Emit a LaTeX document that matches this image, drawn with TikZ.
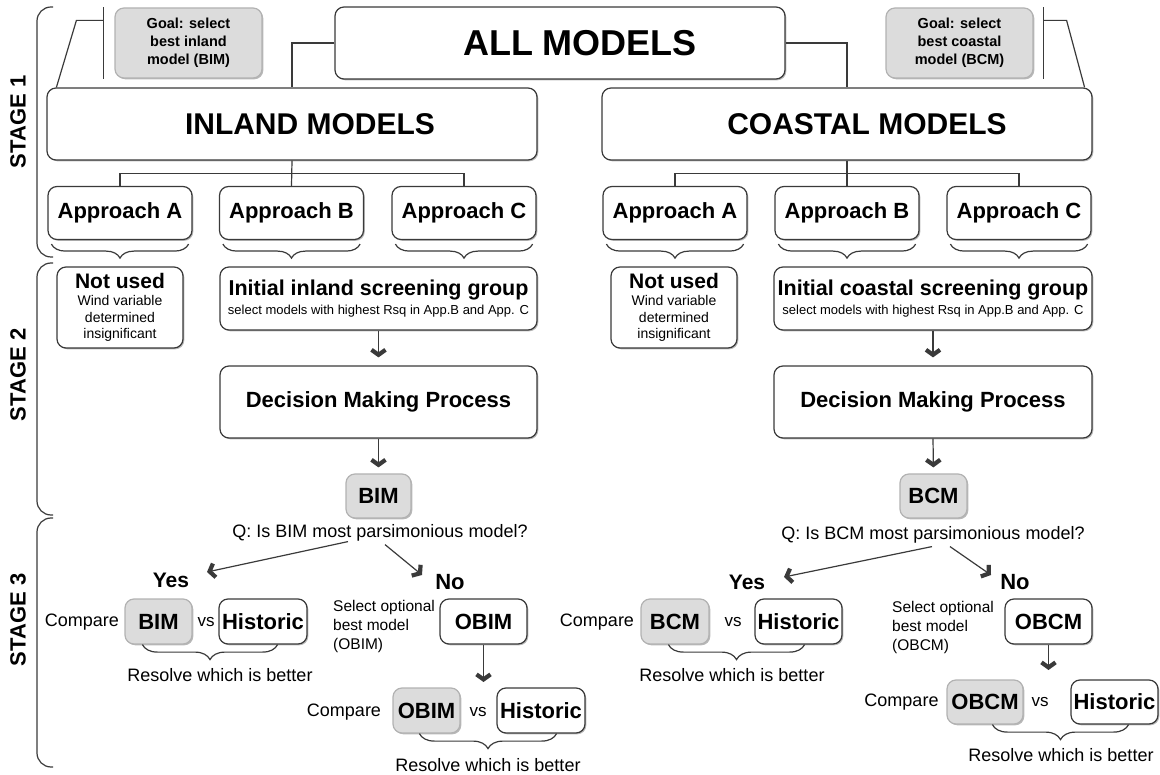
\documentclass[tikz,border=0pt]{standalone}
\usepackage{fontspec}
\setmainfont{Liberation Sans}
\usetikzlibrary{arrows.meta,shadows,decorations.pathreplacing}

\definecolor{boxgray}{HTML}{DCDCDC}
\definecolor{linegray}{HTML}{3A3A3A}

\tikzset{
  flowbox/.style={draw=linegray, line width=1.2pt, rounded corners=9pt, fill=white, inner sep=0pt, align=center,
    font=\bfseries\fontsize{22}{26}\selectfont, drop shadow={shadow xshift=1.3pt, shadow yshift=-1.3pt, fill=black!55}},
  graybox/.style={flowbox, fill=boxgray, draw=black!30},
  plain/.style={inner sep=0pt, align=center, font=\fontsize{18}{21}\selectfont},
  conn/.style={draw=linegray, line width=1.2pt},
  chev/.style={conn, -{Straight Barb[length=5pt, width=14pt, line width=4.2pt 0]}},
  resbrace/.style={conn, decorate, decoration={brace, mirror, amplitude=15pt}},
  stagelabel/.style={inner sep=0pt, rotate=90, font=\bfseries\fontsize{22}{26}\selectfont},
}

\newcommand{\flowbox}[6][] {\node at (#2) (#3) [flowbox, minimum width=#4, minimum height=#5, #1] {#6};}
\newcommand{\graybox}[6][] {\node at (#2) (#3) [graybox, minimum width=#4, minimum height=#5, #1] {#6};}
\newcommand{\plaintext}[4][] {\node at (#2) (#3) [plain, #1] {#4};}
\newcommand{\flowarrow}[3] {\draw [chev, shorten >=#3] (#1) -- (#2);}
\newcommand{\appbrace}[1] {\draw [resbrace, decoration={amplitude=14pt}] ([xshift=4pt, yshift=-4pt]#1.south west) -- ([xshift=-4pt, yshift=-4pt]#1.south east);}
\newcommand{\stagebrace}[5] {\draw [conn, rounded corners=14pt] (53,#1) -- (37,#1) -- (37,#2) -- (53,#2); \node at (18,#3) (#4) [stagelabel] {#5};}

\begin{document}
\begin{tikzpicture}[x=1pt, y=-1pt]
\useasboundingbox (0,0) rectangle (1160,775);

\stagebrace {7}{257}{122}{st1}{STAGE 1};
\stagebrace {263}{515}{375}{st2}{STAGE 2};
\stagebrace {518}{767}{620}{st3}{STAGE 3};

% stage 1
\flowbox[font=\bfseries\fontsize{36}{40}\selectfont] {560,43} {all} {450pt}{72pt} {\hspace*{40pt}ALL MODELS};
\graybox[font=\bfseries\fontsize{14.5}{18}\selectfont] {188.5,43} {goalI} {147pt}{70pt} {Goal: select\\best inland\\model (BIM)};
\graybox[font=\bfseries\fontsize{14.5}{18}\selectfont] {959.5,43} {goalC} {147pt}{70pt} {Goal: select\\best coastal\\model (BCM)};
\flowbox[font=\bfseries\fontsize{30}{34}\selectfont] {292,124} {inland} {490pt}{72pt} {\hspace*{36pt}INLAND MODELS};
\flowbox[font=\bfseries\fontsize{30}{34}\selectfont] {847,124} {coastal} {490pt}{72pt} {\hspace*{40pt}COASTAL MODELS};

\flowbox {120,213} {iA} {144pt}{53pt} {Approach A};
\flowbox {291.5,213} {iB} {144pt}{53pt} {Approach B};
\flowbox {464,213} {iC} {144pt}{53pt} {Approach C};
\flowbox {675,213} {cA} {144pt}{53pt} {Approach A};
\flowbox {847,213} {cB} {144pt}{53pt} {Approach B};
\flowbox {1019,213} {cC} {144pt}{53pt} {Approach C};

\draw [conn] (all.west) -| (inland.north);
\draw [conn] (all.east) -| (coastal.north);
\draw [conn] ([xshift=-11pt]goalI.north west) -- ([xshift=-11pt]goalI.south west);
\draw [conn] ([xshift=-11pt, yshift=-13pt]goalI.north west) -- ++(-27,0) -- ([xshift=10pt]inland.north west);
\draw [conn] ([xshift=10pt]goalC.north east) -- ([xshift=10pt]goalC.south east);
\draw [conn] ([xshift=10pt, yshift=-13pt]goalC.north east) -- ++(23,0) -- ([xshift=-8pt]coastal.north east);
\draw [conn] (inland.south) -- (iB.north);
\draw [conn] (iA.north) |- ([yshift=-13pt]inland.south) -| (iC.north);
\draw [conn] (coastal.south) -- (cB.north);
\draw [conn] (cA.north) |- ([yshift=-13pt]coastal.south) -| (cC.north);

\appbrace{iA}; \appbrace{iB}; \appbrace{iC};
\appbrace{cA}; \appbrace{cB}; \appbrace{cC};

% stage 2
\flowbox[font=\fontsize{14}{16.5}\selectfont] {120,307.5} {iNot} {126pt}{81pt} {{\bfseries\fontsize{21}{24}\selectfont Not used}\\[1pt]Wind variable\\determined\\insignificant};
\flowbox[font=\fontsize{13}{15}\selectfont] {378.5,298.5} {iInit} {317pt}{63pt} {{\bfseries\fontsize{21.5}{25}\selectfont Initial inland screening group}\\[4pt]select models with highest Rsq in App.B and App. C};
\flowbox {378.5,402} {iDec} {317pt}{72pt} {Decision Making Process};
\graybox {378.5,496} {iBIM} {65pt}{44pt} {BIM};

\flowbox[font=\fontsize{14}{16.5}\selectfont] {674,307.5} {cNot} {126pt}{81pt} {{\bfseries\fontsize{21}{24}\selectfont Not used}\\[1pt]Wind variable\\determined\\insignificant};
\flowbox[font=\fontsize{13}{15}\selectfont] {933,298.5} {cInit} {318pt}{63pt} {{\bfseries\fontsize{21.5}{25}\selectfont Initial coastal screening group}\\[4pt]select models with highest Rsq in App.B and App. C};
\flowbox {933,402} {cDec} {318pt}{72pt} {Decision Making Process};
\graybox {933.5,496} {cBCM} {67pt}{44pt} {BCM};

\flowarrow{iInit.south}{iDec.north}{8pt};
\flowarrow{iDec.south}{iBIM.north}{6pt};
\flowarrow{cInit.south}{cDec.north}{8pt};
\flowarrow{cDec.south}{cBCM.north}{6pt};

% stage 3 inland
\plaintext {380,533} {iQ} {Q: Is BIM most parsimonious model?};
\plaintext[font=\bfseries\fontsize{21}{24}\selectfont] {171,580} {iYes} {Yes};
\plaintext[font=\bfseries\fontsize{22}{24}\selectfont] {450,582} {iNo} {No};
\plaintext {82,622} {iCmpA} {Compare};
\graybox {158.5,621.5} {iBIM2} {67pt}{45pt} {BIM};
\plaintext[font=\fontsize{17}{20}\selectfont] {206,622} {iVsA} {vs};
\flowbox {263,621.5} {iHisA} {88pt}{45pt} {Historic};
\plaintext {220,675} {iResA} {Resolve which is better};
\plaintext[anchor=west, align=left, font=\fontsize{15.5}{19}\selectfont] {333,626} {iSel} {Select optional\\best model\\(OBIM)};
\flowbox {483.5,621.5} {iOBIM} {87pt}{45pt} {OBIM};
\plaintext {344,712} {iCmpB} {Compare};
\graybox {426.5,710.5} {iOBIM2} {67pt}{45pt} {OBIM};
\plaintext[font=\fontsize{17}{20}\selectfont] {478,712} {iVsB} {vs};
\flowbox {541,710.5} {iHisB} {88pt}{45pt} {Historic};
\plaintext {488,765} {iResB} {Resolve which is better};

\coordinate (iYesTip) at (207,572);
\coordinate (iNoTip) at (422,575);
\coordinate (iCmpTop) at (483.5,682);
\draw [chev] ([xshift=-32pt]iQ.south) -- (iYesTip);
\draw [chev] ([xshift=5pt, yshift=-3pt]iQ.south) -- (iNoTip);
\draw [chev] (iOBIM.south) -- (iCmpTop);
\draw [resbrace] ([xshift=18pt]iBIM2.south west) -- ([xshift=-30pt]iHisA.south east);
\draw [resbrace] ([xshift=27pt]iOBIM2.south west) -- ([xshift=-29pt]iHisB.south east);

% stage 3 coastal
\plaintext {933,535} {cQ} {Q: Is BCM most parsimonious model?};
\plaintext[font=\bfseries\fontsize{21}{24}\selectfont] {747,582} {cYes} {Yes};
\plaintext[font=\bfseries\fontsize{22}{24}\selectfont] {1015,582} {cNo} {No};
\plaintext {597,622} {cCmpA} {Compare};
\graybox {675,621.5} {cBCM2} {68pt}{45pt} {BCM};
\plaintext[font=\fontsize{17}{20}\selectfont] {733,622} {cVsA} {vs};
\flowbox {798.5,621.5} {cHisA} {87pt}{45pt} {Historic};
\plaintext {732,675} {cResA} {Resolve which is better};
\plaintext[anchor=west, align=left, font=\fontsize{15.5}{19}\selectfont] {892,627} {cSel} {Select optional\\best model\\(OBCM)};
\flowbox {1048.5,621.5} {cOBCM} {87pt}{45pt} {OBCM};
\plaintext {901.5,702} {cCmpB} {Compare};
\graybox {985,702} {cOBCM2} {76pt}{44pt} {OBCM};
\plaintext[font=\fontsize{17}{20}\selectfont] {1040,702} {cVsB} {vs};
\flowbox {1114.5,702} {cHisB} {87pt}{44pt} {Historic};
\plaintext {1061,755} {cResB} {Resolve which is better};

\coordinate (cYesTip) at (784,577);
\coordinate (cNoTip) at (991,575);
\coordinate (cCmpTop) at (1048.5,670);
\draw [chev] ([xshift=-1pt, yshift=-3pt]cQ.south) -- (cYesTip);
\draw [chev] ([xshift=17pt, yshift=-3pt]cQ.south) -- (cNoTip);
\draw [chev] (cOBCM.south) -- (cCmpTop);
\draw [resbrace] ([xshift=28pt]cBCM2.south west) -- ([xshift=-38pt]cHisA.south east);
\draw [resbrace] ([xshift=46pt]cOBCM2.south west) -- ([xshift=-30pt]cHisB.south east);

\end{tikzpicture}
\end{document}
